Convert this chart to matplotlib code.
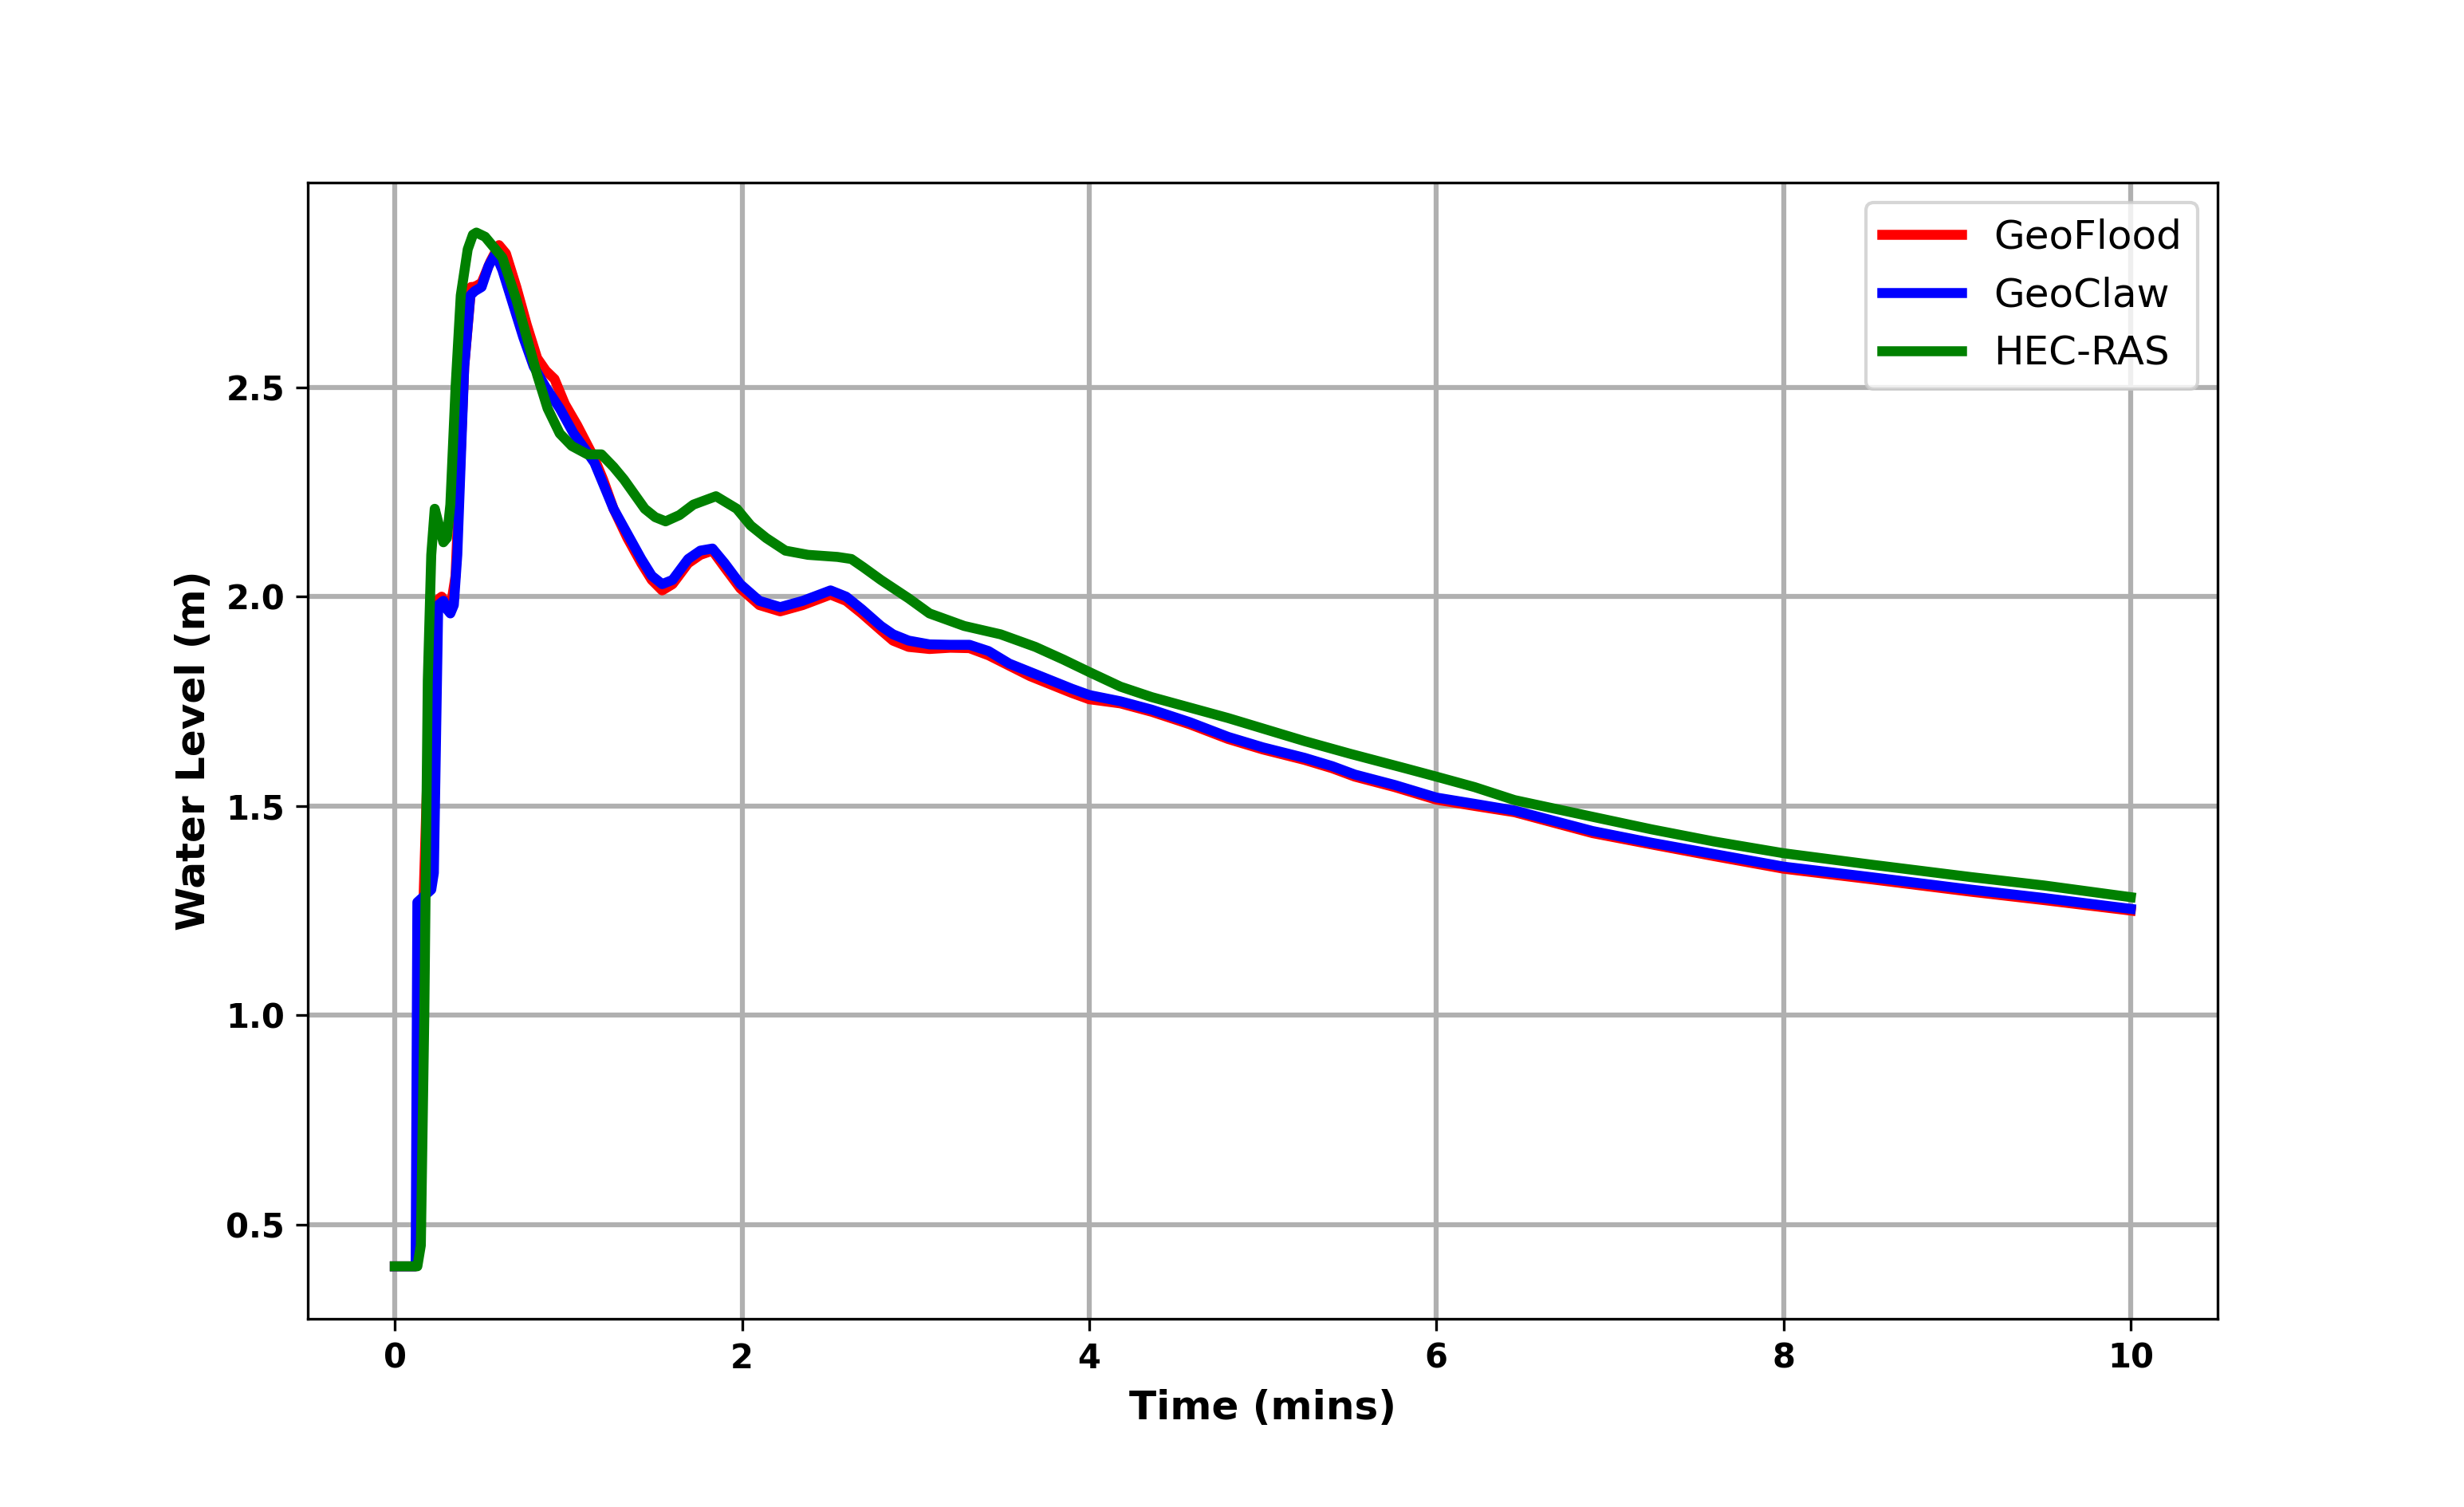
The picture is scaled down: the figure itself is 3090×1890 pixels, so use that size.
import matplotlib
matplotlib.use('Agg')
import matplotlib.pyplot as plt
import numpy as np

# Water level time series (time in minutes, level in m)
geoflood_t = [0, 0.12, 0.14, 0.16, 0.20, 0.24, 0.27, 0.30, 0.32, 0.35,
              0.40, 0.44, 0.46, 0.50, 0.55, 0.60, 0.64, 0.70, 0.76, 0.82,
              0.87, 0.92, 0.98, 1.05, 1.10, 1.15, 1.20, 1.26, 1.34, 1.42,
              1.48, 1.54, 1.60, 1.69, 1.76, 1.83, 1.90, 1.99, 2.10, 2.22,
              2.35, 2.51, 2.60, 2.69, 2.80, 2.87, 2.96, 3.08, 3.20, 3.31,
              3.42, 3.54, 3.66, 3.78, 3.90, 4.0, 4.18, 4.36, 4.58, 4.80,
              5.0, 5.24, 5.40, 5.53, 5.76, 6.0, 6.22, 6.45, 6.9, 7.24,
              7.6, 8.0, 8.5, 9.08, 9.5, 10.0]
geoflood_h = [0.40, 0.40, 0.60, 1.20, 1.75, 1.99, 2.00, 1.98, 1.97, 2.05,
              2.55, 2.74, 2.74, 2.75, 2.80, 2.84, 2.82, 2.74, 2.65, 2.57,
              2.54, 2.52, 2.46, 2.41, 2.37, 2.33, 2.28, 2.21, 2.14, 2.08,
              2.04, 2.015, 2.03, 2.08, 2.10, 2.11, 2.07, 2.02, 1.98, 1.965,
              1.98, 2.005, 1.99, 1.96, 1.92, 1.895, 1.88, 1.875, 1.878, 1.877,
              1.86, 1.835, 1.81, 1.79, 1.77, 1.755, 1.745, 1.725, 1.695, 1.66,
              1.635, 1.61, 1.59, 1.57, 1.545, 1.515, 1.50, 1.485, 1.435, 1.408,
              1.38, 1.35, 1.325, 1.295, 1.275, 1.25]

geoclaw_t = [0, 0.12, 0.13, 0.21, 0.225, 0.25, 0.28, 0.30, 0.32, 0.34,
             0.36, 0.40, 0.435, 0.46, 0.50, 0.54, 0.58, 0.62, 0.68, 0.74,
             0.80, 0.87, 0.95, 1.03, 1.10, 1.15, 1.20, 1.26, 1.34, 1.42,
             1.48, 1.54, 1.60, 1.69, 1.76, 1.83, 1.90, 1.99, 2.10, 2.22,
             2.35, 2.51, 2.60, 2.69, 2.80, 2.87, 2.96, 3.08, 3.20, 3.31,
             3.42, 3.54, 3.66, 3.78, 3.90, 4.0, 4.18, 4.36, 4.58, 4.80,
             5.0, 5.24, 5.40, 5.53, 5.76, 6.0, 6.22, 6.45, 6.9, 7.24,
             7.6, 8.0, 8.5, 9.08, 9.5, 10.0]
geoclaw_h = [0.40, 0.40, 1.27, 1.30, 1.34, 1.98, 1.99, 1.97, 1.96, 1.98,
             2.10, 2.55, 2.72, 2.73, 2.74, 2.79, 2.82, 2.78, 2.70, 2.62,
             2.55, 2.50, 2.45, 2.39, 2.35, 2.32, 2.27, 2.21, 2.15, 2.09,
             2.05, 2.03, 2.04, 2.09, 2.11, 2.115, 2.08, 2.03, 1.99, 1.975,
             1.99, 2.015, 2.00, 1.97, 1.93, 1.91, 1.895, 1.886, 1.885, 1.885,
             1.87, 1.84, 1.82, 1.80, 1.78, 1.765, 1.75, 1.73, 1.70, 1.665,
             1.64, 1.615, 1.595, 1.575, 1.55, 1.52, 1.505, 1.489, 1.44, 1.412,
             1.385, 1.355, 1.33, 1.30, 1.28, 1.254]

hecras_t = [0, 0.13, 0.15, 0.17, 0.19, 0.21, 0.23, 0.255, 0.28, 0.30,
            0.32, 0.35, 0.38, 0.42, 0.45, 0.47, 0.52, 0.56, 0.62, 0.70,
            0.76, 0.82, 0.88, 0.95, 1.02, 1.11, 1.19, 1.26, 1.32, 1.38,
            1.44, 1.50, 1.56, 1.64, 1.72, 1.85, 1.97, 2.05, 2.14, 2.25,
            2.38, 2.55, 2.63, 2.70, 2.80, 2.96, 3.08, 3.18, 3.28, 3.49,
            3.69, 3.85, 4.0, 4.18, 4.36, 4.58, 4.80, 5.0, 5.24, 5.5,
            5.82, 6.0, 6.22, 6.45, 6.9, 7.24, 7.6, 8.0, 8.5, 9.08,
            9.5, 10.0]
hecras_h = [0.40, 0.40, 0.45, 1.00, 1.80, 2.10, 2.21, 2.17, 2.13, 2.14,
            2.22, 2.50, 2.72, 2.83, 2.865, 2.87, 2.86, 2.84, 2.81, 2.71,
            2.62, 2.53, 2.45, 2.39, 2.36, 2.34, 2.34, 2.31, 2.28, 2.245,
            2.21, 2.19, 2.18, 2.195, 2.22, 2.24, 2.21, 2.17, 2.14, 2.11,
            2.10, 2.095, 2.09, 2.07, 2.04, 1.996, 1.96, 1.945, 1.93, 1.91,
            1.88, 1.85, 1.82, 1.785, 1.76, 1.735, 1.71, 1.685, 1.655, 1.625,
            1.59, 1.57, 1.545, 1.514, 1.474, 1.444, 1.415, 1.387, 1.36, 1.33,
            1.31, 1.282]

fig = plt.figure(figsize=(10.3, 6.3), dpi=300)
ax = fig.add_axes([0.125, 0.125, 0.775, 0.754])

ax.plot(geoflood_t, geoflood_h, color='red', linewidth=3, label='GeoFlood')
ax.plot(geoclaw_t, geoclaw_h, color='blue', linewidth=3, label='GeoClaw')
ax.plot(hecras_t, hecras_h, color='green', linewidth=3, label='HEC-RAS')

ax.set_xlim(-0.5, 10.5)
ax.set_ylim(0.275, 2.99)
ax.set_xticks([0, 2, 4, 6, 8, 10])
ax.set_yticks([0.5, 1.0, 1.5, 2.0, 2.5])
ax.grid(True, linewidth=1.5, color='#b0b0b0')

ax.set_xlabel('Time (mins)', fontsize=12, fontweight='bold')
ax.set_ylabel('Water Level (m)', fontsize=12, fontweight='bold')
for lbl in ax.get_xticklabels() + ax.get_yticklabels():
    lbl.set_fontweight('bold')
    lbl.set_fontsize(10)

ax.legend(loc='upper right', fontsize=12)

fig.savefig('out.png', dpi=300)
